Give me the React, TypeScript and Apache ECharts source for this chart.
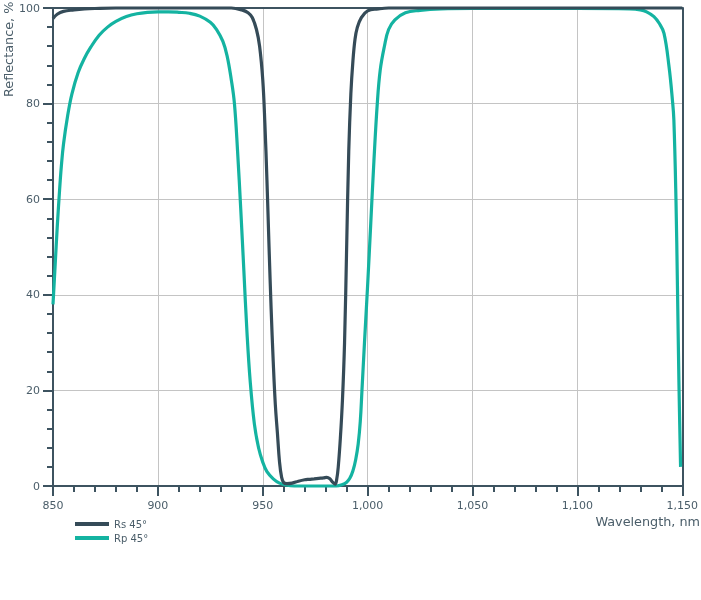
import React, { useEffect, useRef } from "react";
import * as echarts from "echarts";

const rsWavelength = [
  850, 852, 855, 860, 865, 870, 880, 900, 920, 935, 940, 943, 945, 947, 948.5,
  950, 951, 952, 953, 954, 955, 956, 957, 958, 959, 960, 961.5, 964, 967, 970,
  972, 974.5, 976.7, 979, 980.5, 982, 983.3, 984.5, 985.3, 986, 987, 988, 989,
  990, 991, 992, 993, 994, 995, 997, 1000, 1005, 1010, 1020, 1150,
];
const rsValues = [
  97.8, 98.7, 99.3, 99.6, 99.8, 99.9, 100, 100, 100, 100, 99.6, 99.0, 98.0,
  95.5, 92, 85, 76, 64, 50, 37, 26, 17, 11, 5, 1.8, 0.7, 0.5, 0.6, 1.0, 1.3,
  1.4, 1.5, 1.6, 1.7, 1.8, 1.5, 0.8, 0.4, 1.5, 4, 10, 18, 30, 50, 70, 82, 89,
  93.5, 95.8, 98, 99.4, 99.8, 100, 100, 100,
];

const rpWavelength = [
  850, 851, 852, 853, 854, 855, 857, 859, 862, 865, 868, 872, 876, 880, 885,
  890, 895, 900, 905, 910, 915, 920, 925, 928, 931, 933, 935, 936.5, 938, 939.5,
  941, 942.5, 944, 946, 948, 950, 952, 955, 958, 961, 965, 985, 988, 990, 991.5,
  993, 994.3, 995.5, 996.5, 997.3, 998.5, 1000, 1001.5, 1003, 1004.6, 1006, 1008,
  1010, 1013, 1018, 1025, 1035, 1050, 1100, 1125, 1130, 1133, 1136.5, 1139,
  1141.3, 1143.7, 1145.3, 1146, 1147, 1147.7, 1148.4, 1149.2,
];
const rpValues = [
  38, 46, 54, 61, 67, 71.5, 77.5, 82, 86.5, 89.5, 91.8, 94.3, 96, 97.2, 98.2,
  98.8, 99.1, 99.2, 99.2, 99.1, 98.9, 98.3, 97, 95.5, 93, 90, 85, 80, 70, 58,
  45, 32, 22, 13, 8, 5, 3, 1.5, 0.6, 0.2, 0, 0, 0.3, 0.8, 1.6, 3.2, 5.5, 8.8,
  13.5, 20, 30, 42, 55, 68, 80, 87, 92, 95.5, 97.5, 99, 99.5, 99.8, 99.9, 99.9,
  99.8, 99.6, 99.2, 98.2, 96.8, 94.7, 87.7, 80.8, 76.6, 60, 42, 22, 4,
];

const seriesNames = ["Rs 45°", "Rp 45°"];
const xTicks = { min: 850, max: 1150, interval: 50 };
const yTicks = { min: 0, max: 100, interval: 20 };

const RS_COLOR = "#354b58";
const RP_COLOR = "#14b3a1";
const AXIS_COLOR = "#3d5360";
const TEXT_COLOR = "#4a5d69";
const FONT = '"DejaVu Sans", Verdana, sans-serif';

export default function App() {
  const ref = useRef<HTMLDivElement>(null);
  useEffect(() => {
    if (!ref.current) return;
    const chart = echarts.init(ref.current, undefined, { renderer: "svg" });
    const pairs = (xs: number[], ys: number[]) => xs.map((x, i) => [x, ys[i]]);
    chart.setOption({
      animation: false,
      textStyle: { fontFamily: FONT },
      grid: { left: 53, right: 16, top: 8, bottom: 114, containLabel: false },
      legend: {
        orient: "vertical",
        left: 75,
        top: 518,
        padding: 0,
        icon: "rect",
        itemWidth: 34,
        itemHeight: 4,
        itemGap: 2,
        data: seriesNames,
        textStyle: { color: TEXT_COLOR, fontSize: 10, lineHeight: 12, fontFamily: FONT },
      },
      xAxis: [
        {
          type: "value",
          min: xTicks.min,
          max: xTicks.max,
          interval: xTicks.interval,
          axisLine: { show: true, onZero: false, lineStyle: { color: AXIS_COLOR, width: 2 } },
          axisTick: { show: true, length: 10, lineStyle: { color: AXIS_COLOR, width: 2 } },
          minorTick: { show: true, splitNumber: 5, length: 6, lineStyle: { color: AXIS_COLOR, width: 2 } },
          axisLabel: {
            color: TEXT_COLOR,
            fontSize: 11,
            lineHeight: 13,
            margin: 13,
            fontFamily: FONT,
            formatter: (v: number) => v.toLocaleString("en-US"),
          },
          splitLine: { show: true, lineStyle: { color: "#c4c4c4", width: 1 } },
        },
        {
          type: "value",
          position: "top",
          min: xTicks.min,
          max: xTicks.max,
          axisLine: { show: true, onZero: false, lineStyle: { color: AXIS_COLOR, width: 2 } },
          axisTick: { show: false },
          axisLabel: { show: false },
          splitLine: { show: false },
        },
      ],
      yAxis: [
        {
          type: "value",
          min: yTicks.min,
          max: yTicks.max,
          interval: yTicks.interval,
          axisLine: { show: true, onZero: false, lineStyle: { color: AXIS_COLOR, width: 2 } },
          axisTick: { show: true, length: 10, lineStyle: { color: AXIS_COLOR, width: 2 } },
          minorTick: { show: true, splitNumber: 5, length: 6, lineStyle: { color: AXIS_COLOR, width: 2 } },
          axisLabel: { color: TEXT_COLOR, fontSize: 11, margin: 13, fontFamily: FONT },
          splitLine: { show: true, lineStyle: { color: "#c4c4c4", width: 1 } },
        },
        {
          type: "value",
          position: "right",
          min: yTicks.min,
          max: yTicks.max,
          axisLine: { show: true, onZero: false, lineStyle: { color: AXIS_COLOR, width: 2 } },
          axisTick: { show: false },
          axisLabel: { show: false },
          splitLine: { show: false },
        },
      ],
      graphic: [
        {
          type: "text",
          x: 2,
          y: 97,
          rotation: Math.PI / 2,
          style: {
            text: "Reflectance, %",
            fill: TEXT_COLOR,
            font: `12.8px ${FONT}`,
            textAlign: "left",
            textVerticalAlign: "top",
          },
        },
        {
          type: "text",
          right: 1,
          top: 514,
          style: {
            text: "Wavelength, nm",
            fill: TEXT_COLOR,
            font: `12.8px ${FONT}`,
            lineHeight: 15,
          },
        },
      ],
      series: [
        {
          name: seriesNames[1],
          type: "line",
          data: pairs(rpWavelength, rpValues),
          showSymbol: false,
          smooth: 0.4,
          clip: false,
          lineStyle: { color: RP_COLOR, width: 3.2 },
          itemStyle: { color: RP_COLOR },
          z: 3,
        },
        {
          name: seriesNames[0],
          type: "line",
          data: pairs(rsWavelength, rsValues),
          showSymbol: false,
          smooth: 0.4,
          clip: false,
          lineStyle: { color: RS_COLOR, width: 3.2 },
          itemStyle: { color: RS_COLOR },
          z: 4,
        },
      ],
    });
    return () => chart.dispose();
  }, []);
  return (
    <div
      ref={ref}
      style={{ position: "fixed", left: 0, top: 0, width: 701, height: 600 }}
    />
  );
}
